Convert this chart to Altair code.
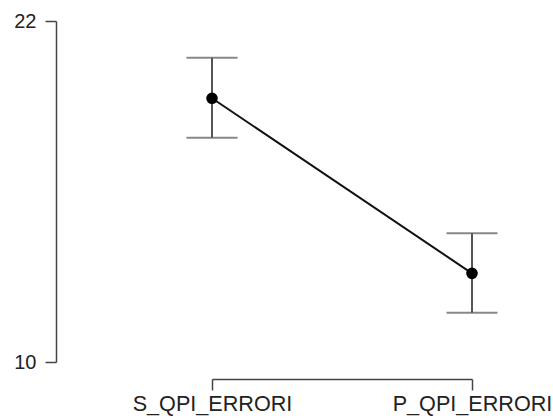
import altair as alt
import pandas as pd

groups = ["S_QPI_ERRORI", "P_QPI_ERRORI"]
means = [19.28, 13.12]
lower = [17.89, 11.73]
upper = [20.71, 14.53]
y_ticks = [10, 22]

df = pd.DataFrame({"group": groups, "mean": means, "lower": lower, "upper": upper})

FONT = "Liberation Sans"

x_enc = alt.X(
    "group:N",
    scale=alt.Scale(type="point", padding=0, domain=groups),
    axis=alt.Axis(
        title=None, labelAngle=0, offset=17, tickSize=11, labelPadding=14,
        labelAlign="center", labelFlush=False,
        domainColor="#444", tickColor="#444", domainWidth=1.5, tickWidth=1.5,
        labelFont=FONT, labelFontSize=21.6, labelColor="#222", grid=False,
    ),
)
y_scale = alt.Scale(domain=[10, 22], nice=False, zero=False)

base = alt.Chart(df)

line = base.mark_line(color="#111", strokeWidth=2).encode(
    x=x_enc,
    y=alt.Y(
        "mean:Q", scale=y_scale,
        axis=alt.Axis(
            title=None, values=y_ticks, offset=156, tickSize=11, labelPadding=9,
            labelFlush=False,
            domainColor="#444", tickColor="#444", domainWidth=1.5, tickWidth=1.5,
            labelFont=FONT, labelFontSize=20, labelColor="#222", grid=False,
        ),
    ),
)
rules = base.mark_rule(color="#555", strokeWidth=2).encode(
    x="group:N", y=alt.Y("lower:Q", scale=y_scale), y2="upper:Q"
)
caps_hi = base.mark_tick(color="#555", size=51, thickness=2, orient="horizontal").encode(
    x="group:N", y=alt.Y("upper:Q", scale=y_scale)
)
caps_lo = base.mark_tick(color="#555", size=51, thickness=2, orient="horizontal").encode(
    x="group:N", y=alt.Y("lower:Q", scale=y_scale)
)
points = base.mark_point(filled=True, color="#000", size=135, opacity=1).encode(
    x="group:N", y=alt.Y("mean:Q", scale=y_scale)
)

chart = (
    alt.layer(rules, caps_hi, caps_lo, line, points)
    .properties(
        width=260, height=341,
        autosize=alt.AutoSizeParams(type="none"),
        padding={"left": 212, "top": 21, "right": 81, "bottom": 56},
        background="white",
    )
    .configure_view(stroke=None)
)

chart.save("out.html", embed_options={"renderer": "svg", "actions": False})
